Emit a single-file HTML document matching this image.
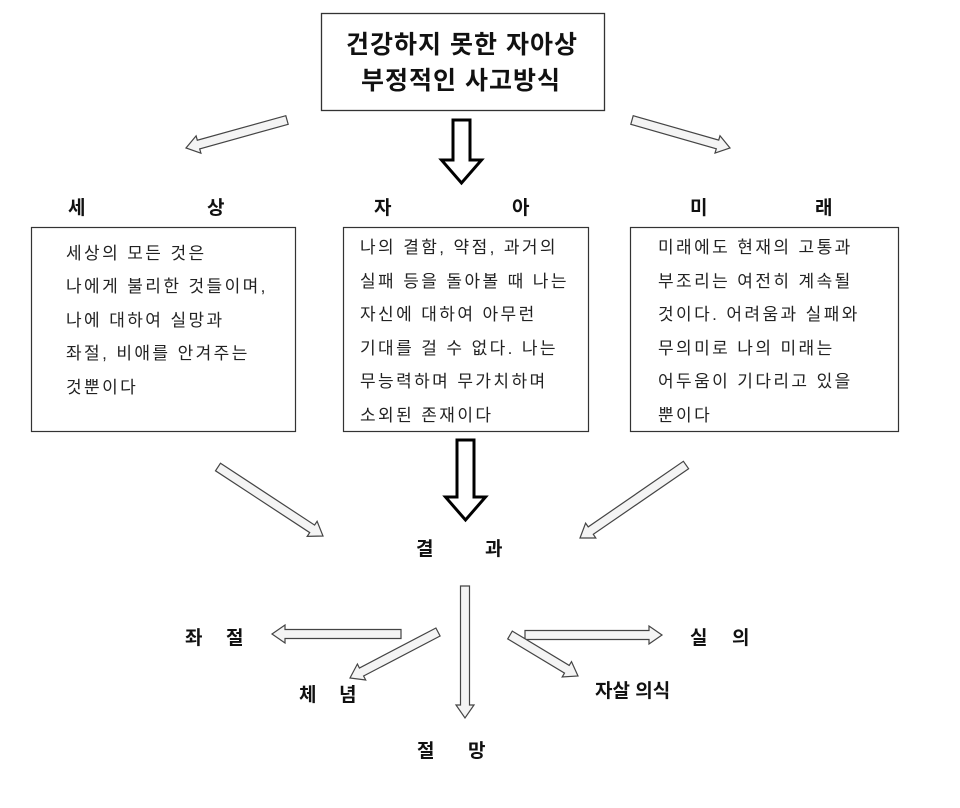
<!DOCTYPE html>
<html><head><meta charset="utf-8"><style>
html,body{margin:0;padding:0;background:#fff;}
svg{display:block;}
text{font-family:"Liberation Sans","Noto Sans CJK KR","NanumGothic",sans-serif;fill:#111;}
.b{font-weight:bold;font-size:19px;}
.t{font-size:17px;fill:#222;letter-spacing:2.4px;}
.h{font-weight:bold;font-size:25px;letter-spacing:1px;}
</style></head><body>
<svg id="s" width="960" height="808" viewBox="0 0 960 808" xmlns="http://www.w3.org/2000/svg">
<rect x="321.5" y="13.5" width="283" height="97" fill="#fff" stroke="#333" stroke-width="1.3"/>
<text class="h" x="462" y="53" text-anchor="middle">건강하지 못한 자아상</text>
<text class="h" x="461" y="89" text-anchor="middle">부정적인 사고방식</text>

<rect x="31.5" y="227.5" width="264" height="204" fill="none" stroke="#333" stroke-width="1.2"/>
<rect x="343.5" y="227.5" width="245" height="204" fill="none" stroke="#333" stroke-width="1.2"/>
<rect x="630.5" y="227.5" width="268" height="204" fill="none" stroke="#333" stroke-width="1.2"/>

<text class="b" x="68" y="214">세</text><text class="b" x="207" y="214">상</text>
<text class="b" x="374" y="214">자</text><text class="b" x="512" y="214">아</text>
<text class="b" x="690" y="214">미</text><text class="b" x="815" y="214">래</text>

<text class="t" x="66" y="259">세상의 모든 것은</text>
<text class="t" x="66" y="292">나에게 불리한 것들이며,</text>
<text class="t" x="66" y="326">나에 대하여 실망과</text>
<text class="t" x="66" y="359">좌절, 비애를 안겨주는</text>
<text class="t" x="66" y="393">것뿐이다</text>

<text class="t" x="360" y="253">나의 결함, 약점, 과거의</text>
<text class="t" x="360" y="287">실패 등을 돌아볼 때 나는</text>
<text class="t" x="360" y="320">자신에 대하여 아무런</text>
<text class="t" x="360" y="354">기대를 걸 수 없다. 나는</text>
<text class="t" x="360" y="387">무능력하며 무가치하며</text>
<text class="t" x="360" y="421">소외된 존재이다</text>

<text class="t" x="658" y="253">미래에도 현재의 고통과</text>
<text class="t" x="658" y="287">부조리는 여전히 계속될</text>
<text class="t" x="658" y="320">것이다. 어려움과 실패와</text>
<text class="t" x="658" y="354">무의미로 나의 미래는</text>
<text class="t" x="658" y="387">어두움이 기다리고 있을</text>
<text class="t" x="658" y="421">뿐이다</text>

<text class="b" x="416" y="555">결</text><text class="b" x="485" y="555">과</text>
<text class="b" x="185" y="644">좌</text><text class="b" x="226" y="644">절</text>
<text class="b" x="299" y="701">체</text><text class="b" x="339" y="701">념</text>
<text class="b" x="417" y="757">절</text><text class="b" x="468" y="757">망</text>
<text class="b" x="690" y="644">실</text><text class="b" x="732" y="644">의</text>
<text class="b" x="595" y="697">자살 의식</text>
<g id="arrows"></g>
</svg>
<script>
function arrow(x1,y1,x2,y2,sw,hw,hl,stroke,fill,lw){
  var dx=x2-x1,dy=y2-y1,L=Math.sqrt(dx*dx+dy*dy),ux=dx/L,uy=dy/L,px=-uy,py=ux;
  var pts=[[0,-sw],[L-hl,-sw],[L-hl,-hw],[L,0],[L-hl,hw],[L-hl,sw],[0,sw]];
  var s=pts.map(function(p){return (x1+ux*p[0]+px*p[1]).toFixed(1)+","+(y1+uy*p[0]+py*p[1]).toFixed(1);}).join(" ");
  var g=document.getElementById("arrows");
  var e=document.createElementNS("http://www.w3.org/2000/svg","polygon");
  e.setAttribute("points",s);e.setAttribute("fill",fill);e.setAttribute("stroke",stroke);
  e.setAttribute("stroke-width",lw);e.setAttribute("stroke-linejoin","miter");
  g.appendChild(e);
}
var th=function(a,b,c,d){arrow(a,b,c,d,4.5,9,13,"#444","#f4f4f4",1.2);};
th(287,120,186,148);
th(632,120,730,148);
th(218,467,323,536);
th(686,465,580,538);
th(465,586,465,718);
th(401,634,272,634);
th(438,632,350,678);
th(525,635,662,635);
th(510,635,578,676);
arrow(461.5,120,461.5,183,8.5,20,23,"#000","#fff",3);
arrow(465.5,440,465.5,520,8.5,20,23,"#000","#fff",3);
</script>
</body></html>
